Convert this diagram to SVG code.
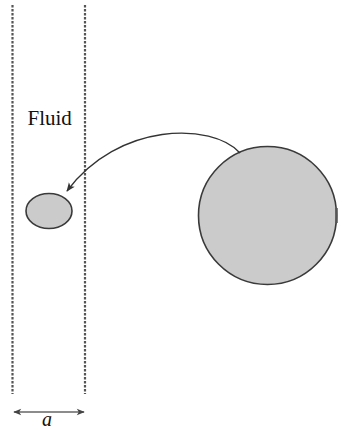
<svg xmlns="http://www.w3.org/2000/svg" width="343" height="430" viewBox="0 0 343 430">
<style>
.dash{stroke:#555;stroke-width:2.2;stroke-dasharray:2.5 1.5;fill:none}
.body{fill:#cbcbcb;stroke:#3a3a3a;stroke-width:1.6}
.conn{stroke:#333;stroke-width:1.3;fill:none}
.lbl{font-family:"Liberation Serif",serif;fill:#111}
</style>
<defs>
<marker id="ah" viewBox="0 0 10 10" refX="9" refY="5" markerWidth="9" markerHeight="9" markerUnits="userSpaceOnUse" orient="auto-start-reverse">
<path d="M0,1 L10,5 L0,9 L2.5,5 Z" fill="#333"/>
</marker>
<marker id="ah2" viewBox="0 0 10 10" refX="9" refY="5" markerWidth="11" markerHeight="8" markerUnits="userSpaceOnUse" orient="auto-start-reverse">
<path d="M0,1 L10,5 L0,9 L2.5,5 Z" fill="#444"/>
</marker>
</defs>
<rect width="343" height="430" fill="#fff"/>
<g id="channel">
<line class="dash" x1="12.5" y1="5" x2="12.5" y2="394"/>
<line class="dash" x1="85" y1="5" x2="85" y2="394"/>
<text class="lbl" x="27.5" y="125" font-size="21">Fluid</text>
</g>
<g id="small-particle">
<ellipse class="body" cx="49" cy="211" rx="23" ry="17.5"/>
</g>
<g id="large-particle">
<circle class="body" cx="267.5" cy="215.5" r="69"/>
<path d="M336.5,208 L336.5,223" stroke="#555" stroke-width="2.5"/>
</g>
<g id="connectors">
<path class="conn" d="M240,153 C212,122 118,122 67,191" marker-end="url(#ah)"/>
<line x1="14" y1="412" x2="84" y2="412" stroke="#666" stroke-width="1.6" marker-start="url(#ah2)" marker-end="url(#ah2)"/>
</g>
<g id="dimension">
<text class="lbl" x="47" y="426" font-size="20" font-style="italic" text-anchor="middle">a</text>
</g>
</svg>
